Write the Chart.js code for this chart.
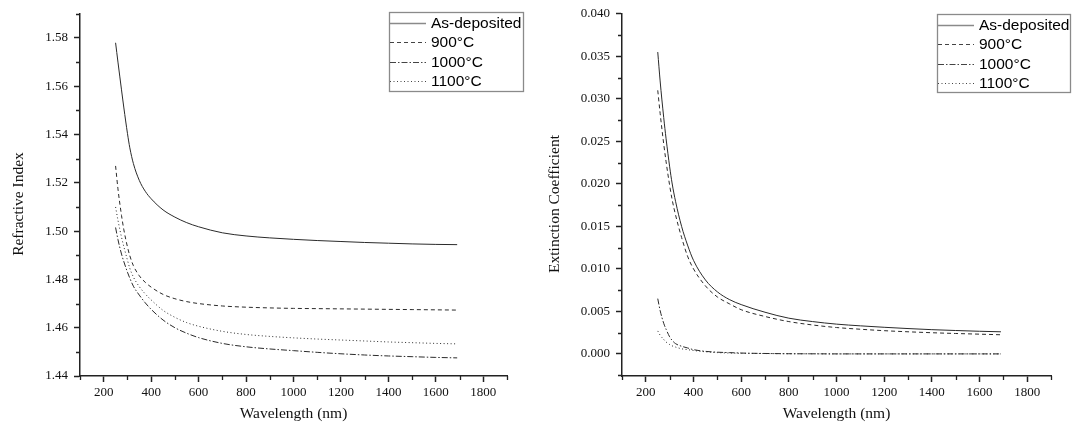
<!DOCTYPE html>
<html>
<head>
<meta charset="utf-8">
<script src="https://cdn.jsdelivr.net/npm/chart.js@4.4.1/dist/chart.umd.min.js"></script>
<style>
  body { margin: 0; background: #fff; }
  #wrap { position: relative; width: 1075px; height: 430px; }
  canvas { position: absolute; top: 0; }
</style>
</head>
<body>
<div id="wrap">
  <canvas id="nChart" width="540" height="430" style="left:0"></canvas>
  <canvas id="kChart" width="535" height="430" style="left:540px"></canvas>
</div>
<script>
// wavelength (nm) sample points
const wavelength = [250, 260, 275, 285, 300, 310, 325, 350, 375, 400, 450, 500, 550, 600, 700, 800, 900, 1000, 1100, 1200, 1300, 1400, 1500, 1600, 1690];
const seriesNames = ["As-deposited", "900°C", "1000°C", "1100°C"];

// refractive index
const nAsDep = [1.578, 1.570, 1.5585, 1.551, 1.5405, 1.5345, 1.5280, 1.5210, 1.5165, 1.5134, 1.5088, 1.5058, 1.5035, 1.5018, 1.4993, 1.4980, 1.4972, 1.4966, 1.4961, 1.4957, 1.4953, 1.4950, 1.4947, 1.4945, 1.4944];
const n900 = [1.527, 1.5175, 1.5065, 1.5005, 1.4935, 1.4898, 1.4857, 1.4815, 1.4788, 1.4768, 1.4738, 1.4720, 1.4708, 1.4700, 1.4690, 1.4685, 1.4682, 1.4680, 1.4679, 1.4678, 1.4677, 1.4676, 1.4675, 1.4674, 1.4673];
const n1000 = [1.5015, 1.4965, 1.4905, 1.4873, 1.4830, 1.4805, 1.4772, 1.4735, 1.4703, 1.4676, 1.4632, 1.4600, 1.4577, 1.4559, 1.4535, 1.4521, 1.4512, 1.4505, 1.4498, 1.4492, 1.4487, 1.4483, 1.4480, 1.4477, 1.4475];
const n1100 = [1.510, 1.5045, 1.4975, 1.4935, 1.4880, 1.4846, 1.4810, 1.4770, 1.4740, 1.4715, 1.4672, 1.4643, 1.4621, 1.4606, 1.4585, 1.4572, 1.4564, 1.4558, 1.4553, 1.4549, 1.4545, 1.4541, 1.4538, 1.4535, 1.4533];

// extinction coefficient
const kAsDep = [0.0355, 0.0321, 0.0278, 0.0253, 0.0220, 0.0201, 0.0179, 0.0150, 0.0128, 0.0110, 0.0087, 0.0073, 0.0064, 0.0058, 0.0049, 0.0042, 0.0038, 0.0035, 0.0033, 0.00313, 0.00298, 0.00285, 0.00275, 0.00266, 0.0026];
const k900 = [0.0310, 0.0283, 0.0247, 0.0226, 0.0198, 0.0182, 0.0163, 0.0137, 0.0115, 0.0100, 0.0080, 0.0067, 0.0059, 0.0052, 0.0044, 0.0038, 0.0034, 0.0031, 0.0029, 0.00273, 0.0026, 0.00249, 0.0024, 0.00232, 0.00225];
const k1000 = [0.0065, 0.0051, 0.0036, 0.0029, 0.0020, 0.0016, 0.0012, 0.0009, 0.0007, 0.0005, 0.0003, 0.0002, 0.00015, 0.0001, 0.00005, 0.00002, 0.00001, 0, 0, 0, 0, 0, 0, 0, 0];
const k1100 = [0.0027, 0.0022, 0.0017, 0.0014, 0.0011, 0.00095, 0.0008, 0.0006, 0.0005, 0.0004, 0.00025, 0.00015, 0.0001, 0.00007, 0.00004, 0.00002, 0.00001, 0, 0, 0, 0, 0, 0, 0, 0];

// axis ticks
const xMajor = [200, 400, 600, 800, 1000, 1200, 1400, 1600, 1800];
const xMinor = [100, 300, 500, 700, 900, 1100, 1300, 1500, 1700, 1900];
const nMajor = [1.44, 1.46, 1.48, 1.50, 1.52, 1.54, 1.56, 1.58];
const nMinor = [1.45, 1.47, 1.49, 1.51, 1.53, 1.55, 1.57, 1.59];
const kMajor = [0.000, 0.005, 0.010, 0.015, 0.020, 0.025, 0.030, 0.035, 0.040];
const kMinor = [-0.0025, 0.0025, 0.0075, 0.0125, 0.0175, 0.0225, 0.0275, 0.0325, 0.0375];

const dashes = [[], [4, 3], [6, 2, 1.5, 2], [1, 2.5]];
const lineColor = "#2a2a2a";
const serif = "'Liberation Serif', 'Times New Roman', serif";
const sans = "'Liberation Sans', Arial, sans-serif";

function makeDatasets(series) {
    return series.map((vals, i) => ({
        label: seriesNames[i],
        data: wavelength.map((w, j) => ({ x: w, y: vals[j] })),
        borderColor: lineColor,
        borderWidth: 1,
        borderDash: dashes[i],
        pointRadius: 0,
        cubicInterpolationMode: "monotone",
        fill: false
    }));
}

// minor ticks, axis titles and the boxed legend
const decorPlugin = {
    id: "decor",
    afterDraw(chart, args, opts) {
        const ctx = chart.ctx;
        const xs = chart.scales.x, ys = chart.scales.y;
        ctx.save();
        ctx.strokeStyle = "#222";
        ctx.lineWidth = 1.3;
        ctx.beginPath();
        opts.xMinor.forEach(v => {
            const px = Math.round(xs.getPixelForValue(v)) + 0.5;
            ctx.moveTo(px, xs.top);
            ctx.lineTo(px, xs.top + 4);
        });
        opts.yMinor.forEach(v => {
            const py = Math.round(ys.getPixelForValue(v)) + 0.5;
            ctx.moveTo(ys.right, py);
            ctx.lineTo(ys.right - 4, py);
        });
        ctx.stroke();

        // axis titles
        ctx.fillStyle = "#111";
        ctx.font = "15.5px " + serif;
        ctx.textAlign = "center";
        ctx.textBaseline = "middle";
        ctx.fillText("Wavelength (nm)", (chart.chartArea.left + chart.chartArea.right) / 2, opts.xTitleY);
        ctx.save();
        ctx.translate(opts.yTitleX, opts.yTitleY);
        ctx.rotate(-Math.PI / 2);
        ctx.fillText(opts.yTitle, 0, 0);
        ctx.restore();

        // legend
        const lg = opts.legend;
        ctx.strokeStyle = "#8a8a8a";
        ctx.lineWidth = 1.3;
        ctx.setLineDash([]);
        ctx.strokeRect(lg.left + 0.5, lg.top + 0.5, lg.width, lg.height);
        ctx.font = "15.5px " + sans;
        ctx.textAlign = "left";
        ctx.fillStyle = "#000";
        chart.data.datasets.forEach((ds, i) => {
            const ry = lg.top + lg.firstRow + i * lg.rowGap;
            ctx.strokeStyle = i === 0 ? "#8a8a8a" : "#444";
            ctx.lineWidth = i === 0 ? 1.6 : 1;
            ctx.setLineDash(ds.borderDash);
            ctx.beginPath();
            ctx.moveTo(lg.left + 1, Math.round(ry) + 0.5);
            ctx.lineTo(lg.left + lg.sample, Math.round(ry) + 0.5);
            ctx.stroke();
            ctx.setLineDash([]);
            ctx.fillText(ds.label, lg.left + lg.sample + 5, ry + 1);
        });
        ctx.restore();
    }
};

function makeChart(id, series, yMin, yMax, yMajor, yMinor, yDigits, yWidth, padRight, decor) {
    const ctx = document.getElementById(id).getContext("2d");
    return new Chart(ctx, {
        type: "line",
        data: { datasets: makeDatasets(series) },
        options: {
            responsive: false,
            animation: false,
            devicePixelRatio: 1,
            layout: { padding: { top: 11, right: padRight, bottom: 0, left: 0 } },
            plugins: {
                legend: { display: false },
                tooltip: { enabled: false },
                decor: decor
            },
            scales: {
                x: {
                    type: "linear",
                    min: 100,
                    max: 1900,
                    afterBuildTicks: s => { s.ticks = xMajor.map(v => ({ value: v })); },
                    afterFit: s => { s.height = 54; },
                    grid: { display: true, drawOnChartArea: false, drawTicks: true, tickLength: 6, tickColor: "#222", tickWidth: 1.5 },
                    border: { display: true, color: "#222", width: 1.5 },
                    ticks: { color: "#111", padding: 3, maxRotation: 0, font: { family: serif, size: 13 }, callback: v => String(v) }
                },
                y: {
                    type: "linear",
                    min: yMin,
                    max: yMax,
                    afterBuildTicks: s => { s.ticks = yMajor.map(v => ({ value: v })); },
                    afterFit: s => { s.width = yWidth; },
                    grid: { display: true, drawOnChartArea: false, drawTicks: true, tickLength: 6, tickColor: "#222", tickWidth: 1.5 },
                    border: { display: true, color: "#222", width: 1.5 },
                    ticks: { color: "#111", padding: 6, font: { family: serif, size: 13 }, callback: v => Number(v).toFixed(yDigits) }
                }
            }
        },
        plugins: [decorPlugin]
    });
}

makeChart("nChart", [nAsDep, n900, n1000, n1100], 1.44, 1.59, nMajor, nMinor, 2, 80, 33, {
    xMinor: xMinor, yMinor: nMinor,
    yTitle: "Refractive Index", yTitleX: 19, yTitleY: 204, xTitleY: 414,
    legend: { left: 389, top: 12, width: 134, height: 79, firstRow: 10.5, rowGap: 19.5, sample: 37 }
});

makeChart("kChart", [kAsDep, k900, k1000, k1100], -0.0026, 0.040, kMajor, kMinor, 3, 82, 24, {
    xMinor: xMinor, yMinor: kMinor,
    yTitle: "Extinction Coefficient", yTitleX: 15, yTitleY: 204, xTitleY: 414,
    legend: { left: 397, top: 14, width: 133, height: 78, firstRow: 10.5, rowGap: 19.5, sample: 37 }
});
</script>
</body>
</html>
